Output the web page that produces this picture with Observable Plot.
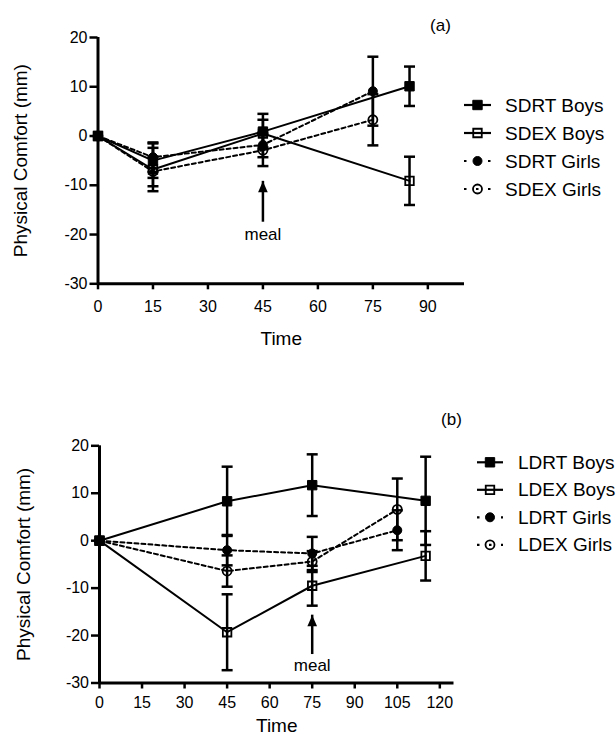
<!DOCTYPE html>
<html><head><meta charset="utf-8">
<script src="https://cdn.jsdelivr.net/npm/d3@7"></script>
<script src="https://cdn.jsdelivr.net/npm/@observablehq/plot@0.6"></script>
<style>
body{margin:0;background:#fff;}
#wrap{width:616px;}
#wrap svg{display:block;}
</style></head><body><div id="wrap"></div>
<script>
// ---------- data ----------
const seriesA = ["SDRT Boys", "SDEX Boys", "SDRT Girls", "SDEX Girls"];
const timesA = [[0, 15, 45, 85], [0, 15, 45, 85], [0, 15, 45, 75], [0, 15, 45, 75]];
const valuesA = [[0, -5.0, 0.9, 10.1], [0, -6.8, 0.5, -9.1], [0, -4.3, -1.8, 9.1], [0, -7.2, -2.9, 3.3]];
const errorsA = [[0, 3.5, 3.6, 4.0], [0, 4.4, 2.8, 4.9], [0, 3.0, 2.5, 7.0], [0, 3.0, 3.2, 5.2]];

const seriesB = ["LDRT Boys", "LDEX Boys", "LDRT Girls", "LDEX Girls"];
const timesB = [[0, 45, 75, 115], [0, 45, 75, 115], [0, 45, 75, 105], [0, 45, 75, 105]];
const valuesB = [[0, 8.3, 11.7, 8.4], [0, -19.3, -9.5, -3.2], [0, -2.0, -2.7, 2.2], [0, -6.4, -4.4, 6.6]];
const errorsB = [[0, 7.3, 6.5, 9.3], [0, 8.0, 4.2, 5.2], [0, 3.2, 3.5, 4.2], [0, 3.3, 2.2, 6.5]];

const markerKinds = ["filledSquare", "openSquare", "filledCircle", "openCircle"];
const groups = ["Boys", "Boys", "Girls", "Girls"];

const xTicksA = [0, 15, 30, 45, 60, 75, 90];
const xTicksB = [0, 15, 30, 45, 60, 75, 90, 105, 120];
const yTicks = [-30, -20, -10, 0, 10, 20];
const xMaxA = 100, xMaxB = 125;
const mealA = [{time: 45, tail: -17.5, head: -9.2, label: -19.9, text: "meal"}];
const mealB = [{time: 75, tail: -24.0, head: -15.7, label: -26.3, text: "meal"}];

// ---------- helpers ----------
function tidy(series, times, values, errors) {
  const rows = [];
  series.forEach((s, i) => times[i].forEach((t, j) => rows.push({
    series: s, time: t, value: values[i][j], err: errors[i][j],
    lo: values[i][j] - errors[i][j], hi: values[i][j] + errors[i][j],
    kind: markerKinds[i], group: groups[i], order: i
  })));
  return rows;
}
const capSym = {draw(ctx, size) { const r = Math.sqrt(size / Math.PI); ctx.moveTo(-r, 0); ctx.lineTo(r, 0); }};
const headSym = {draw(ctx, size) { const r = Math.sqrt(size / Math.PI); ctx.moveTo(0, 0); ctx.lineTo(r * 0.44, r); ctx.lineTo(-r * 0.44, r); ctx.closePath(); }};
const fmt = d => `${d}`;

const SQ_R = 5.3, CI_R = 4.5;
const FONT = "'Liberation Sans', Arial, Helvetica, sans-serif";

function panel(cfg) {
  const rows = tidy(cfg.series, cfg.times, cfg.values, cfg.errors);
  const errRows = rows.filter(d => d.err > 0);
  const drawOrder = [3, 2, 1, 0];
  const dotMarks = [];
  for (const i of drawOrder) {
    const k = markerKinds[i];
    const sub = rows.filter(d => d.order === i);
    const isSq = k.includes("Square");
    const filled = k.startsWith("filled");
    dotMarks.push(Plot.dot(sub, {
      x: "time", y: "value", symbol: isSq ? "square" : "circle",
      r: isSq ? (filled ? SQ_R : SQ_R - 0.5) : CI_R,
      fill: filled ? "black" : "none", stroke: "black", strokeWidth: filled ? 1 : 1.8
    }));
  }
  const plot = Plot.plot({
    width: 616, height: 368,
    marginLeft: cfg.ml, marginRight: cfg.mr, marginTop: cfg.mt, marginBottom: cfg.mb,
    style: {fontFamily: FONT, fontSize: "16px", color: "#000", background: "#fff", overflow: "visible"},
    x: {domain: [0, cfg.xMax]},
    y: {domain: [-30, 20]},
    marks: [
      Plot.axisX(cfg.xTicks, {tickSize: 6, tickPadding: cfg.xPad, strokeWidth: 2.5, fontSize: 16, label: null, tickFormat: fmt}),
      Plot.axisY(yTicks, {tickSize: 8, tickPadding: 2.5, strokeWidth: 2.5, fontSize: 16, label: null, tickFormat: fmt}),
      Plot.ruleX([0], {y1: -30, y2: 20, strokeWidth: 3}),
      Plot.ruleY([-30], {x1: 0, x2: cfg.xMax, strokeWidth: 3}),
      Plot.line(rows.filter(d => d.group === "Boys"), {x: "time", y: "value", z: "series", stroke: "black", strokeWidth: 2}),
      Plot.line(rows.filter(d => d.group === "Girls"), {x: "time", y: "value", z: "series", stroke: "black", strokeWidth: 2, strokeDasharray: "4,3"}),
      Plot.ruleX(errRows, {x: "time", y1: "lo", y2: "hi", strokeWidth: 2.5}),
      Plot.dot(errRows, {x: "time", y: "lo", symbol: capSym, r: 5.5, stroke: "black", strokeWidth: 2.5, fill: "none"}),
      Plot.dot(errRows, {x: "time", y: "hi", symbol: capSym, r: 5.5, stroke: "black", strokeWidth: 2.5, fill: "none"}),
      ...dotMarks,
      Plot.ruleX(cfg.meal, {x: "time", y1: "tail", y2: "head", strokeWidth: 2.5}),
      Plot.dot(cfg.meal, {x: "time", y: "head", symbol: headSym, r: 11, fill: "black", stroke: "none"}),
      Plot.text(cfg.meal, {x: "time", y: "label", text: "text", fontSize: 17, lineAnchor: "middle"}),
      Plot.text(["Time"], {text: d => d, frameAnchor: "bottom", dy: cfg.timeDy, fontSize: 19, lineAnchor: "middle", textAnchor: "middle"}),
      Plot.text(["Physical Comfort (mm)"], {text: d => d, frameAnchor: "left", dx: -cfg.yTitleDx, rotate: -90, fontSize: 19, lineAnchor: "middle", textAnchor: "middle"}),
      Plot.text([cfg.tag], {text: d => d, frameAnchor: "top-right", dx: cfg.tagDx, dy: cfg.tagDy, fontSize: 17, lineAnchor: "middle", textAnchor: "middle"})
    ]
  });
  // legend
  const svg = d3.select(plot);
  const g = svg.append("g").attr("font-family", FONT).attr("font-size", 19).attr("text-anchor", "start");
  cfg.series.forEach((s, i) => {
    const y = cfg.legTop + i * cfg.legStep;
    const cx = (cfg.legX0 + cfg.legX1) / 2;
    const girls = groups[i] === "Girls";
    g.append("line").attr("x1", cfg.legX0).attr("x2", cfg.legX1).attr("y1", y).attr("y2", y)
      .attr("stroke", "black").attr("stroke-width", 2.2)
      .attr("stroke-dasharray", girls ? "2.5,9.5" : null);
    const k = markerKinds[i];
    const isSq = k.includes("Square");
    const filled = k.startsWith("filled");
    const r = isSq ? (filled ? SQ_R : SQ_R - 0.5) : CI_R;
    g.append("path").attr("transform", `translate(${cx},${y})`)
      .attr("d", d3.symbol(isSq ? d3.symbolSquare : d3.symbolCircle, Math.PI * r * r)())
      .attr("fill", filled ? "black" : "none").attr("stroke", "black").attr("stroke-width", filled ? 1 : 1.8);
    g.append("text").attr("x", cfg.legText).attr("y", y).attr("dy", "0.35em").attr("text-anchor", "start").text(s);
  });
  return plot;
}

const wrap = document.getElementById("wrap");
wrap.appendChild(panel({
  series: seriesA, times: timesA, values: valuesA, errors: errorsA,
  xTicks: xTicksA, xMax: xMaxA, meal: mealA, tag: "(a)",
  ml: 97.5, mr: 152, mt: 37, mb: 84.7, xPad: 11, timeDy: 55, yTitleDx: 77,
  tagDx: -24, tagDy: -12,
  legX0: 464, legX1: 491, legText: 505, legTop: 105, legStep: 28
}));
wrap.appendChild(panel({
  series: seriesB, times: timesB, values: valuesB, errors: errorsB,
  xTicks: xTicksB, xMax: xMaxB, meal: mealB, tag: "(b)",
  ml: 99, mr: 162.5, mt: 77.3, mb: 53.5, xPad: 8, timeDy: 43, yTitleDx: 75.5,
  tagDx: -2.5, tagDy: -26.5,
  legX0: 477, legX1: 503, legText: 518, legTop: 94.3, legStep: 27.5
}));
</script>
</body></html>
